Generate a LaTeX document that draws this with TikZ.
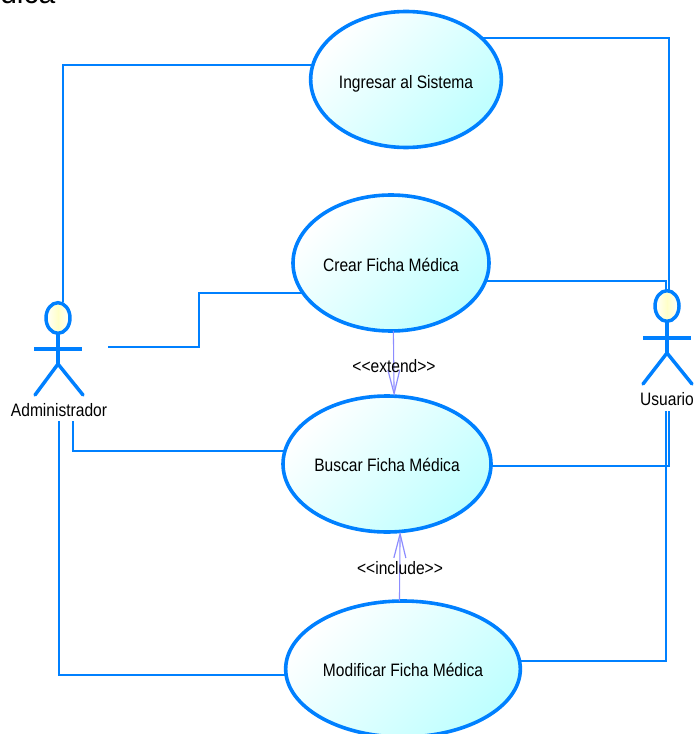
\documentclass[tikz,border=0pt]{standalone}
\usepackage{fontspec}
\setmainfont{Liberation Sans}
\newfontfamily\lblfont[FakeStretch=0.865]{Liberation Sans}
\usetikzlibrary{shapes.geometric,arrows.meta}
\definecolor{umlblue}{RGB}{0,128,255}
\definecolor{umlviolet}{RGB}{140,140,255}
\definecolor{headyellow}{RGB}{255,255,200}
\definecolor{casecyan}{RGB}{190,255,255}
\tikzset{
  usecase/.style={ellipse,draw=umlblue,line width=2.7pt,inner sep=0pt,outer sep=0pt,
    top color=white,bottom color=casecyan,shading angle=45,
    font=\lblfont\fontsize{13.5}{15}\selectfont,text=black,text depth=0pt},
  actorhead/.style={ellipse,draw=umlblue,line width=2.6pt,inner sep=0pt,outer sep=0pt,
    minimum width=18pt,minimum height=23pt,
    left color=white,right color=white,middle color=headyellow},
  actorline/.style={draw=umlblue,line width=2.6pt},
  assoc/.style={draw=umlblue,line width=1.5pt},
  rel/.style={draw=umlviolet,line width=0.8pt,-{Straight Barb[length=18pt,width=9pt,line width=0.9pt]}},
  lbl/.style={font=\lblfont\fontsize{13.5}{15}\selectfont,text=black,inner sep=0pt}
}
\begin{document}
\begin{tikzpicture}[x=0.75pt,y=-0.75pt]
\useasboundingbox (0,0) rectangle (694,734);
\clip (0,0) rectangle (694,734);
\node[anchor=base west,inner sep=0pt,font=\fontsize{22.5}{24}\selectfont] (title) at (0,4) {dica};

\node[usecase,minimum width=143pt,minimum height=102pt,text height=13pt] (ing) at (406,79.5) {Ingresar al Sistema};
\node[usecase,minimum width=147pt,minimum height=102pt,text height=13pt] (crear) at (391,263) {Crear Ficha Médica};
\node[usecase,minimum width=156pt,minimum height=102pt,text height=10.5pt] (busc) at (387,464) {Buscar Ficha Médica};
\node[usecase,minimum width=176pt,minimum height=102pt,text height=11.5pt] (modi) at (403,669) {Modificar Ficha Médica};

% actor Administrador
\node[actorhead] (ahead) at (58,318) {};
\coordinate (ahip) at (58,364);
\coordinate (aarml) at (34,349);
\coordinate (aarmr) at (82,349);
\coordinate (alegl) at (35,395);
\coordinate (alegr) at (83,395);
\draw[actorline] (ahead.south) -- (ahip);
\draw[actorline] (aarml) -- (aarmr);
\draw[actorline,line cap=round] (alegl) -- (ahip) -- (alegr);
\node[lbl] (alabel) at (59,410) {Administrador};

% actor Usuario
\node[actorhead] (uhead) at (667,306) {};
\coordinate (uhip) at (667,353);
\coordinate (uarml) at (643,338);
\coordinate (uarmr) at (691,338);
\coordinate (ulegl) at (643,384);
\coordinate (ulegr) at (692,384);
\draw[actorline] (uhead.south) -- (uhip);
\draw[actorline] (uarml) -- (uarmr);
\draw[actorline,line cap=round] (ulegl) -- (uhip) -- (ulegr);
\node[lbl] (ulabel) at (667,399) {Usuario};

% free ends of the associations
\coordinate (a1) at (63,302);
\coordinate (a2) at (108,347);
\coordinate (a2b) at (199,347);
\coordinate (a3) at (73,421);
\coordinate (a4) at (59,421);
\coordinate (u1) at (669,291);
\coordinate (u2) at (666,291);
\coordinate (u3) at (669,411);
\coordinate (u4) at (666,411);

\draw[assoc] (a1) |- (ing.171);
\draw[assoc] (a2) -- (a2b) |- (crear.199);
\draw[assoc] (a3) |- (busc.173);
\draw[assoc] (a4) |- (modi.183);
\draw[assoc] (u1) |- (ing.29);
\draw[assoc] (u2) |- (crear.-11);
\draw[assoc] (u3) |- (busc.-1);
\draw[assoc] (u4) |- (modi.4);

\draw[rel] (crear.-88) -- (busc.84);
\draw[rel] (modi.93) -- (busc.-79);
\node[lbl] (ext) at (394,366) {\textless\textless extend\textgreater\textgreater};
\node[lbl] (inc) at (400,568) {\textless\textless include\textgreater\textgreater};
\end{tikzpicture}
\end{document}
